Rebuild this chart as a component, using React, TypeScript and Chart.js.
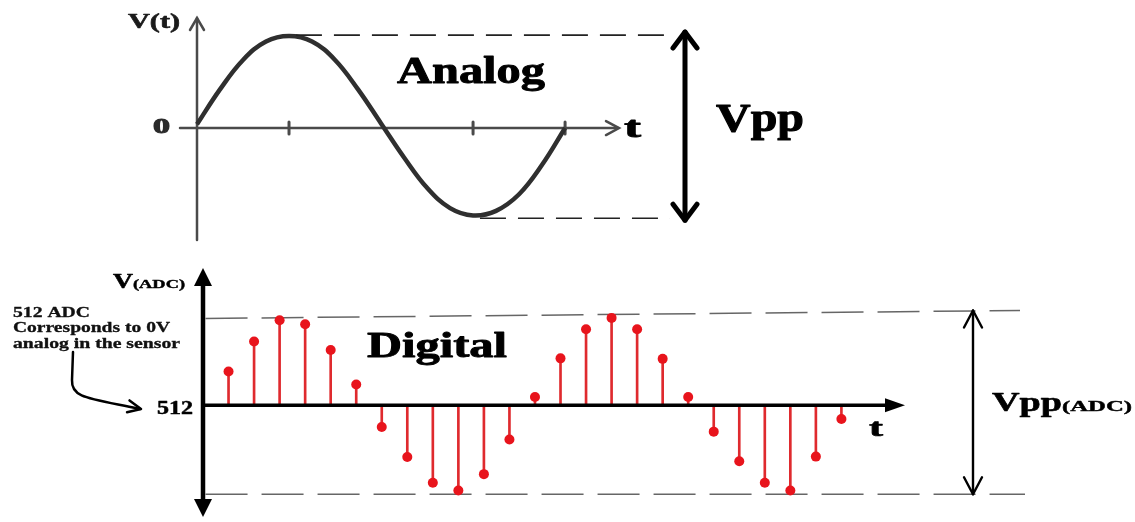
import React, { useEffect, useRef } from "react";
import { Chart, registerables } from "chart.js";

Chart.register(...registerables);

// ---------- Analog (top) ----------
// time in 1/16-period steps, voltage normalised to the peak
const analogT = [0, 1, 2, 3, 4, 5, 6, 7, 8, 9, 10, 11, 12, 13, 14, 15, 16];
const analogV = [0.04, 0.42, 0.74, 0.94, 1.0, 0.94, 0.74, 0.42, 0.05, -0.32, -0.65, -0.87, -0.95, -0.9, -0.72, -0.4, 0.0];
const analogTicks = [4, 12, 16];
const analogPeak = 1.01;
const analogTrough = -0.98;

// ---------- Digital (bottom) ----------
const sampleT = [1, 2, 3, 4, 5, 6, 7, 8, 9, 10, 11, 12, 13, 14, 15, 16, 17, 18, 19, 20, 21, 22, 23, 24, 25];
const sampleADC = [709, 883, 1006, 983, 833, 633, 386, 212, 62, 17, 112, 313, 560, 785, 954, 1020, 954, 782, 560, 359, 187, 62, 17, 214, 433];
const adcZero = 512;
const adcTopLeft = 1017;
const adcTopRight = 1063;
const adcBottom = -5;

const FONT = '"Liberation Serif", "DejaVu Serif", serif';

function drawFit(ctx: CanvasRenderingContext2D, text: string, left: number, baseline: number, size: number, width: number, color = "#000", heavy = 0) {
  ctx.save();
  ctx.font = `bold ${size}px ${FONT}`;
  ctx.fillStyle = color;
  ctx.strokeStyle = color;
  ctx.textAlign = "left";
  ctx.textBaseline = "alphabetic";
  const w = ctx.measureText(text).width;
  ctx.translate(left, baseline);
  ctx.scale(width / w, 1);
  ctx.fillText(text, 0, 0);
  if (heavy > 0) {
    ctx.lineWidth = heavy;
    ctx.lineJoin = "round";
    ctx.strokeText(text, 0, 0);
  }
  ctx.restore();
}

function seg(ctx: CanvasRenderingContext2D, x1: number, y1: number, x2: number, y2: number) {
  ctx.beginPath();
  ctx.moveTo(x1, y1);
  ctx.lineTo(x2, y2);
  ctx.stroke();
}

function openHead(ctx: CanvasRenderingContext2D, tx: number, ty: number, dx: number, dy: number, halfW: number, len: number) {
  const px = -dy, py = dx;
  ctx.beginPath();
  ctx.moveTo(tx - dx * len + px * halfW, ty - dy * len + py * halfW);
  ctx.lineTo(tx, ty);
  ctx.lineTo(tx - dx * len - px * halfW, ty - dy * len - py * halfW);
  ctx.stroke();
}

function filledHead(ctx: CanvasRenderingContext2D, tx: number, ty: number, dx: number, dy: number, halfW: number, len: number) {
  const px = -dy, py = dx;
  ctx.beginPath();
  ctx.moveTo(tx, ty);
  ctx.lineTo(tx - dx * len + px * halfW, ty - dy * len + py * halfW);
  ctx.lineTo(tx - dx * len - px * halfW, ty - dy * len - py * halfW);
  ctx.closePath();
  ctx.fill();
}

const topAxes = {
  id: "topAxes",
  beforeDatasetsDraw(chart: any) {
    const { ctx, chartArea, scales } = chart;
    const x = scales.x, y = scales.y;
    const x0 = x.getPixelForValue(0);
    const y0 = y.getPixelForValue(0);
    ctx.save();
    ctx.strokeStyle = "#4a4a4a";
    ctx.lineWidth = 2.5;
    ctx.lineCap = "round";
    seg(ctx, x0, chartArea.top, x0, chartArea.bottom);
    openHead(ctx, x0, chartArea.top, 0, -1, 7, 12);
    seg(ctx, x0 - 17, y0, chartArea.right + 3, y0);
    openHead(ctx, chartArea.right + 4, y0, 1, 0, 7, 13);
    ctx.lineWidth = 3;
    analogTicks.forEach((t) => {
      const px = x.getPixelForValue(t);
      seg(ctx, px, y0 - 6, px, y0 + 6);
    });
    ctx.restore();
  },
  afterDatasetsDraw(chart: any) {
    const { ctx, scales } = chart;
    const x = scales.x, y = scales.y;
    const yTop = y.getPixelForValue(analogPeak);
    const yBot = y.getPixelForValue(analogTrough);
    ctx.save();
    ctx.strokeStyle = "#222";
    ctx.lineWidth = 1.6;
    ctx.setLineDash([26, 12]);
    seg(ctx, x.getPixelForValue(4.3), yTop, 665, yTop);
    seg(ctx, x.getPixelForValue(12.3), yBot, 670, yBot);
    ctx.setLineDash([]);
    ctx.strokeStyle = "#000";
    ctx.lineWidth = 5;
    ctx.lineCap = "round";
    ctx.lineJoin = "round";
    seg(ctx, 685, yTop - 3, 685, yBot + 2);
    openHead(ctx, 685, yTop - 3, 0, -1, 12, 16);
    openHead(ctx, 685, yBot + 2, 0, 1, 12, 16);
    ctx.restore();
    drawFit(ctx, "V(t)", 128, 28, 21, 52, "#1a1a1a", 0.6);
    drawFit(ctx, "0", 153, 133, 20, 17, "#2a2a2a", 1);
    drawFit(ctx, "t", 624, 137, 29, 17, "#000", 0.8);
    drawFit(ctx, "Analog", 397, 83, 38, 148, "#000", 0.9);
    drawFit(ctx, "Vpp", 716, 131, 41, 88, "#000", 1);
  },
};

const bottomAxes = {
  id: "bottomAxes",
  beforeDatasetsDraw(chart: any) {
    const { ctx, scales } = chart;
    const x = scales.x, y = scales.y;
    ctx.save();
    ctx.strokeStyle = "#666";
    ctx.lineWidth = 1.5;
    ctx.setLineDash([42, 14]);
    seg(ctx, x.getPixelForValue(0.1), y.getPixelForValue(adcTopLeft), 1020, y.getPixelForValue(adcTopRight));
    seg(ctx, x.getPixelForValue(0.1), y.getPixelForValue(adcBottom), 1025, y.getPixelForValue(adcBottom));
    ctx.restore();
  },
  afterDatasetsDraw(chart: any) {
    const { ctx, chartArea, scales } = chart;
    const x = scales.x, y = scales.y;
    const x0 = x.getPixelForValue(0);
    const y0 = y.getPixelForValue(adcZero);
    ctx.save();
    ctx.strokeStyle = "#000";
    ctx.fillStyle = "#000";
    ctx.lineWidth = 4.5;
    seg(ctx, x0, chartArea.top + 10, x0, chartArea.bottom - 10);
    filledHead(ctx, x0, chartArea.top, 0, -1, 9, 18);
    filledHead(ctx, x0, chartArea.bottom, 0, 1, 9, 18);
    ctx.lineWidth = 3.5;
    seg(ctx, x0, y0, chartArea.right - 12, y0);
    filledHead(ctx, chartArea.right, y0, 1, 0, 7, 20);
    const ya = y.getPixelForValue(adcTopRight);
    const yb = y.getPixelForValue(adcBottom);
    ctx.lineWidth = 2.4;
    ctx.lineCap = "round";
    ctx.lineJoin = "round";
    seg(ctx, 973, ya, 973, yb);
    openHead(ctx, 973, ya, 0, -1, 9, 17);
    openHead(ctx, 973, yb, 0, 1, 9, 17);
    ctx.lineWidth = 2.5;
    ctx.beginPath();
    ctx.moveTo(73, 352);
    ctx.lineTo(72, 380);
    ctx.bezierCurveTo(71, 398, 88, 398, 140, 409);
    ctx.stroke();
    const ang = Math.atan2(409 - 398, 140 - 88);
    openHead(ctx, 141, 409, Math.cos(ang), Math.sin(ang), 6, 13);
    ctx.restore();
    drawFit(ctx, "V", 113, 288, 22, 20, "#000", 0.6);
    drawFit(ctx, "(ADC)", 133, 288, 12, 52, "#000", 0.4);
    drawFit(ctx, "512 ADC", 13, 317, 14, 77, "#111", 0.3);
    drawFit(ctx, "Corresponds to 0V", 13, 332, 14, 157, "#111", 0.3);
    drawFit(ctx, "analog in the sensor", 13, 348, 14, 167, "#111", 0.3);
    drawFit(ctx, "512", 157, 414, 18, 36, "#000", 0.5);
    drawFit(ctx, "Digital", 367, 357, 36, 140, "#000", 0.9);
    drawFit(ctx, "t", 869, 436, 26, 14, "#000", 0.7);
    drawFit(ctx, "Vpp", 992, 411, 27, 70, "#000", 0.6);
    drawFit(ctx, "(ADC)", 1062, 411, 15, 70, "#000", 0.4);
  },
};

export default function App() {
  const topRef = useRef<HTMLCanvasElement>(null);
  const botRef = useRef<HTMLCanvasElement>(null);

  useEffect(() => {
    const hidden = { display: false };
    const top = new Chart(topRef.current as HTMLCanvasElement, {
      type: "line",
      data: {
        datasets: [
          {
            data: analogT.map((t, i) => ({ x: t, y: analogV[i] })),
            borderColor: "#2f2f2f",
            borderWidth: 4.5,
            pointRadius: 0,
            tension: 0.4,
            fill: false,
            clip: false as any,
          },
        ],
      },
      options: {
        animation: false,
        responsive: false,
        events: [],
        layout: { padding: { left: 197, right: 520, top: 18, bottom: 282 } },
        plugins: { legend: hidden, tooltip: { enabled: false } },
        scales: {
          x: { type: "linear", min: 0, max: 18.17, display: false },
          y: { type: "linear", min: -1.217, max: 1.196, display: false },
        },
      },
      plugins: [topAxes],
    } as any);

    const bottom = new Chart(botRef.current as HTMLCanvasElement, {
      type: "bar",
      data: {
        datasets: [
          {
            type: "line",
            data: sampleT.map((t, i) => ({ x: t, y: sampleADC[i] })),
            showLine: false,
            pointRadius: 5,
            pointBackgroundColor: "#e8141c",
            pointBorderWidth: 0,
            pointBorderColor: "#e8141c",
            order: 0,
            clip: false,
          },
          {
            type: "bar",
            data: sampleT.map((t, i) => ({ x: t, y: [adcZero, sampleADC[i]] })),
            backgroundColor: "#df2a2e",
            barThickness: 2,
            borderWidth: 0,
            order: 1,
          },
        ],
      },
      options: {
        animation: false,
        responsive: false,
        events: [],
        layout: { padding: { left: 203, right: 230, top: 268, bottom: 2 } },
        plugins: { legend: hidden, tooltip: { enabled: false } },
        scales: {
          x: { type: "linear", min: 0, max: 27.49, offset: false, display: false },
          y: { type: "linear", min: -137, max: 1310, display: false },
        },
      },
      plugins: [bottomAxes],
    } as any);

    return () => {
      top.destroy();
      bottom.destroy();
    };
  }, []);

  const cs: React.CSSProperties = { position: "absolute", left: 0, top: 0, width: 1135, height: 522, display: "block" };
  return (
    <div style={{ position: "absolute", left: 0, top: 0, width: 1135, height: 522, background: "#fff" }}>
      <canvas ref={topRef} width={1135} height={522} style={cs} />
      <canvas ref={botRef} width={1135} height={522} style={cs} />
    </div>
  );
}
